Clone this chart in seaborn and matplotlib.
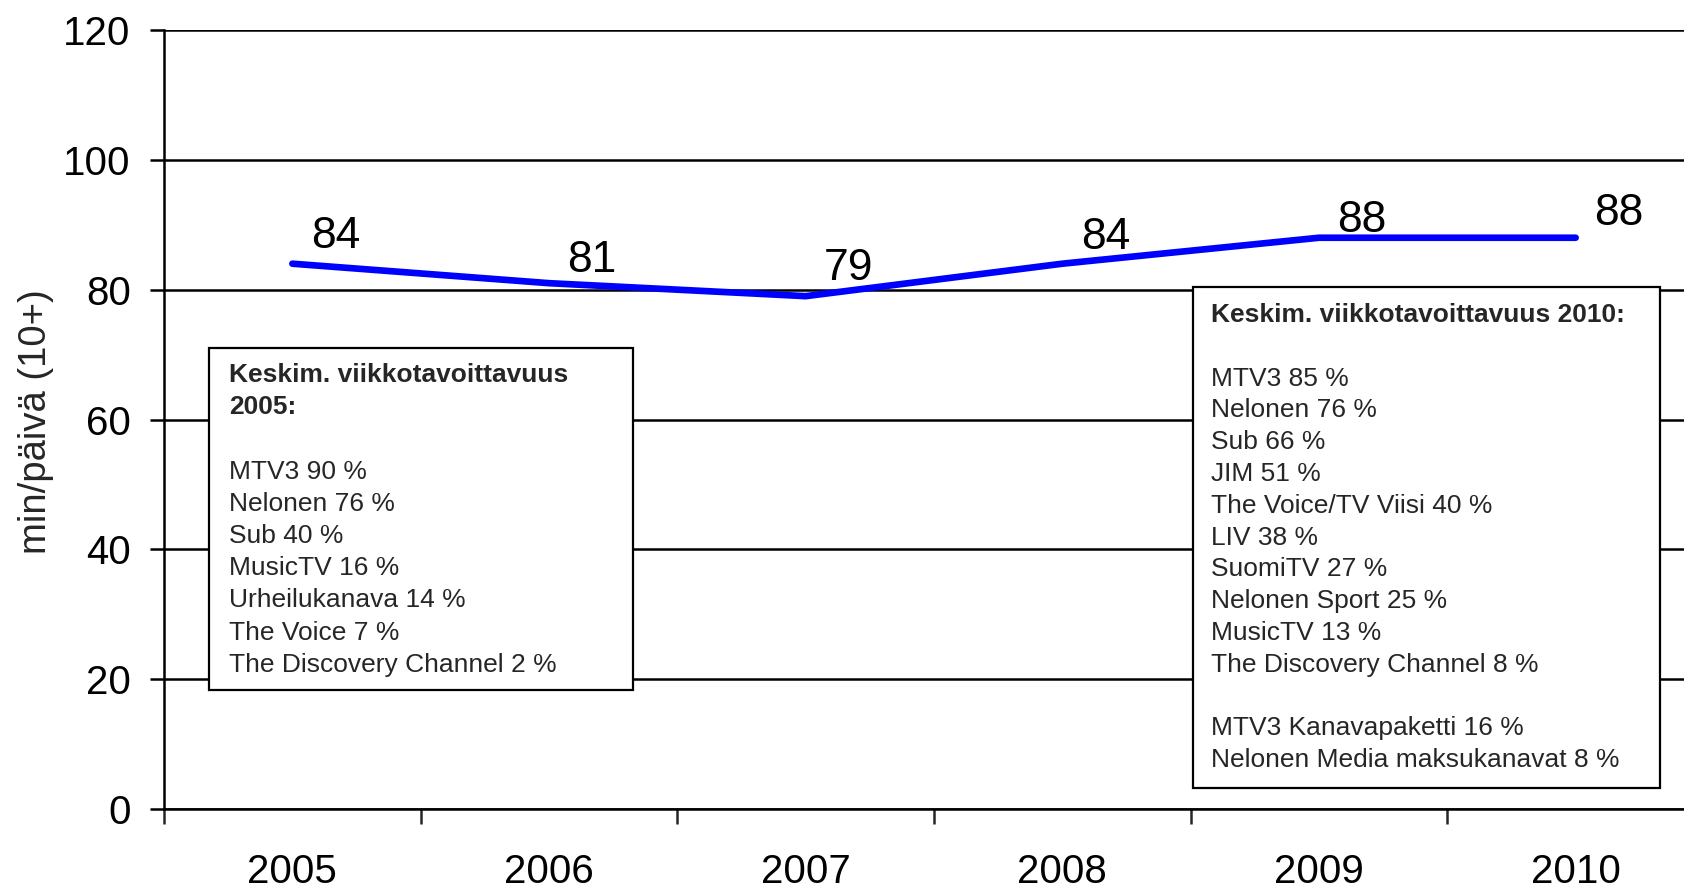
import numpy as np
import pandas as pd
import seaborn as sns
import matplotlib.pyplot as plt
from matplotlib.patches import Rectangle

# data
years = ["2005", "2006", "2007", "2008", "2009", "2010"]
minutes = [84, 81, 79, 84, 88, 88]
y_ticks = [0, 20, 40, 60, 80, 100, 120]

box_2005_title = ["Keskim. viikkotavoittavuus", "2005:"]
box_2005_items = ["MTV3 90 %", "Nelonen 76 %", "Sub 40 %", "MusicTV 16 %",
                  "Urheilukanava 14 %", "The Voice 7 %",
                  "The Discovery Channel 2 %"]

box_2010_title = ["Keskim. viikkotavoittavuus 2010:"]
box_2010_items = ["MTV3 85 %", "Nelonen 76 %", "Sub 66 %", "JIM 51 %",
                  "The Voice/TV Viisi 40 %", "LIV 38 %", "SuomiTV 27 %",
                  "Nelonen Sport 25 %", "MusicTV 13 %",
                  "The Discovery Channel 8 %", "",
                  "MTV3 Kanavapaketti 16 %",
                  "Nelonen Media maksukanavat 8 %"]

df = pd.DataFrame({"year": years, "minutes": minutes})

sns.set_style("white")
plt.rcParams['font.family'] = ['Liberation Sans', 'DejaVu Sans']

W, H = 1684, 896
fig = plt.figure(figsize=(W / 100, H / 100), dpi=100)


def fx(px):
    return px / W


def fy(py):
    return 1 - py / H


# axes runs past the right edge of the figure, like the original crop
ax = fig.add_axes([fx(164), fy(809), 1540 / W, 779 / H])

sns.lineplot(data=df, x="year", y="minutes", ax=ax, color="#0000FF",
             linewidth=4.8, solid_capstyle="round", zorder=3)

# value labels, up and to the right of each point
label_dy = [27, 23, 28, 26, 17, 24]
for i, v in enumerate(minutes):
    ax.annotate(str(v), (i, v), xytext=(43, label_dy[i]),
                textcoords="offset pixels", ha="center", va="center",
                fontsize=32, color="black")

ax.set_ylim(0, 120)
ax.set_xlim(-0.5, len(years) - 0.5)
ax.set_yticks(y_ticks)
ax.set_xticks(range(len(years)))
ax.set_xticks(np.arange(len(years) + 1) - 0.5, minor=True)
ax.set_xlabel("")
ax.set_ylabel("min/päivä (10+)", fontsize=27.5)
ax.yaxis.set_label_coords((fx(36) - fx(164)) / (1540 / W), 0.497)
ax.yaxis.label.set_va("center")

ax.tick_params(axis="y", labelsize=29, length=10, width=1.8, pad=14,
               direction="out", left=True, colors="black")
ax.tick_params(axis="x", which="major", labelsize=29, length=0, pad=32,
               colors="black")
ax.tick_params(axis="x", which="minor", length=11, width=1.8,
               direction="out", bottom=True)

ax.grid(axis="y", color="black", linewidth=1.8)
ax.grid(axis="x", visible=False)
for side in ["top", "right"]:
    ax.spines[side].set_visible(False)
for side in ["left", "bottom"]:
    ax.spines[side].set_color("black")
    ax.spines[side].set_linewidth(1.8)

# text boxes
fig.add_artist(Rectangle((fx(209), fy(690)), fx(633) - fx(209),
                         fy(348) - fy(690), transform=fig.transFigure,
                         facecolor="white", edgecolor="black", linewidth=1.6))
fig.add_artist(Rectangle((fx(1193), fy(788)), fx(1660) - fx(1193),
                         fy(287) - fy(788), transform=fig.transFigure,
                         facecolor="white", edgecolor="black", linewidth=1.6))

lines_2005 = [(t, "bold") for t in box_2005_title] + [("", "normal")] + \
             [(t, "normal") for t in box_2005_items]
for k, (t, w) in enumerate(lines_2005):
    fig.text(fx(229), fy(375 + k * 32.2), t, fontsize=19, fontweight=w,
             ha="left", va="center")

lines_2010 = [(t, "bold") for t in box_2010_title] + [("", "normal")] + \
             [(t, "normal") for t in box_2010_items]
for k, (t, w) in enumerate(lines_2010):
    fig.text(fx(1211), fy(315 + k * 31.8), t, fontsize=19, fontweight=w,
             ha="left", va="center")

fig.savefig("out.png", dpi=100)
